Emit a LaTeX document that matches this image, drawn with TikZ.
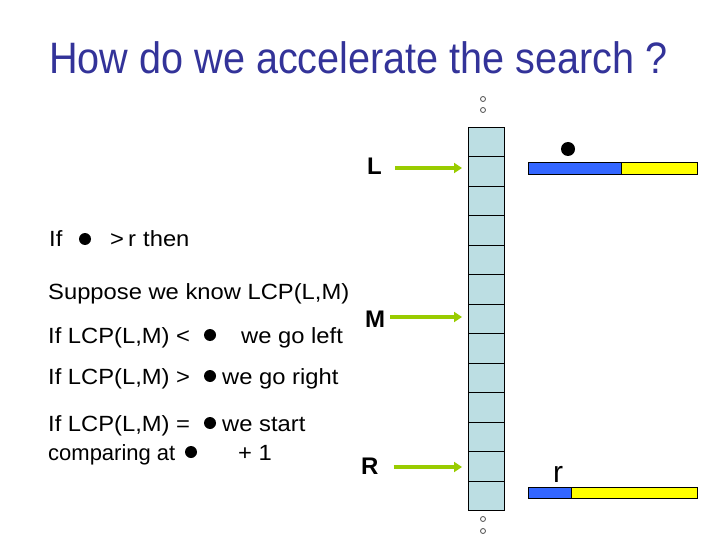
\documentclass[tikz,border=0pt]{standalone}
\usepackage{fontspec}
\setmainfont{Liberation Sans}
\newfontfamily\titlefont[FakeStretch=0.9]{Liberation Sans}
\newfontfamily\bodyfont[FakeStretch=1.08]{Liberation Sans}
\newfontfamily\narrowbodyfont[FakeStretch=1.0]{Liberation Sans}
\usetikzlibrary{arrows.meta}
\definecolor{titleblue}{RGB}{51,51,153}
\definecolor{cellblue}{RGB}{188,222,227}
\definecolor{arrowgreen}{RGB}{153,204,0}
\definecolor{barblue}{RGB}{51,102,255}
\definecolor{baryellow}{RGB}{255,255,0}
\begin{document}
\begin{tikzpicture}[x=1pt,y=-1pt,
  body/.style={anchor=base west,inner sep=0pt,font=\bodyfont\fontsize{22}{26}\selectfont},
  narrowbody/.style={anchor=base west,inner sep=0pt,font=\narrowbodyfont\fontsize{22}{26}\selectfont},
  lbl/.style={anchor=base west,inner sep=0pt,font=\bfseries\fontsize{24}{28}\selectfont},
  cellbox/.style={draw=black,fill=cellblue,line width=0.9pt,minimum width=36pt,minimum height=29.46pt,inner sep=0pt,anchor=north west},
  bul/.style={circle,fill=black,inner sep=0pt,minimum size=12pt},
  bigbul/.style={circle,fill=black,inner sep=0pt,minimum size=14pt},
  garrow/.style={draw=arrowgreen,line width=3.5pt,-{Triangle[length=8pt,width=10pt]}},
  dotc/.style={circle,draw=black!70,fill=white,line width=0.8pt,inner sep=0pt,minimum size=5pt},
  barpart/.style={draw=black,line width=0.8pt,inner sep=0pt,anchor=north west}]
\useasboundingbox (0,0) rectangle (720,540);
% title
\node[anchor=base west,inner sep=0pt,text=titleblue,font=\titlefont\fontsize{44}{50}\selectfont] (title) at (49,74) {How do we accelerate the search ?};
% column of cells
\foreach \i in {1,...,13} {
  \node[cellbox] (c\i) at (468,{127+(\i-1)*29.46}) {};
}
% dots
\node[dotc] (d1) at (483,99) {};
\node[dotc] (d2) at (483,110) {};
\node[dotc] (d3) at (483,519) {};
\node[dotc] (d4) at (483,531) {};
% L M R labels and arrows
\node[lbl] (L) at (367,175) {L};
\node[lbl] (M) at (365,327) {M};
\node[lbl] (R) at (361,474) {R};
\coordinate (Lend) at (462,168);
\coordinate (Mend) at (462,317);
\coordinate (Rend) at (462,467);
\draw[garrow,shorten <=13pt] (L.east |- Lend) -- (Lend);
\draw[garrow,shorten <=5pt] (M.east |- Mend) -- (Mend);
\draw[garrow,shorten <=15pt] (R.east |- Rend) -- (Rend);
% bars
\node[barpart,fill=barblue,minimum width=93pt,minimum height=12pt] (tb1) at (528,162) {};
\node[barpart,fill=baryellow,minimum width=76pt,minimum height=12pt] (tb2) at (621,162) {};
\node[bigbul] (lb) at (568,149) {};
\node[barpart,fill=barblue,minimum width=43pt,minimum height=11pt] (bb1) at (528,487) {};
\node[barpart,fill=baryellow,minimum width=126pt,minimum height=11pt] (bb2) at (571,487) {};
\node[anchor=base west,inner sep=0pt,font=\fontsize{30}{34}\selectfont] (rlab) at (553,482) {r};
% text lines
\node[body] (t1a) at (49,247) {If};
\node[bul] (b1) at (85,239) {};
\node[body] (t1b) at (110,247) {>};
\node[body] (t1r) at (128,247) {r};
\node[body] (t1c) at (143,247) {then};
\node[body] (t2) at (48,299) {Suppose we know LCP(L,M)};
\node[body] (t3a) at (48,343) {If LCP(L,M) <};
\node[bul] (b3) at (210,335) {};
\node[body] (t3b) at (241,343) {we go left};
\node[body] (t4a) at (48,384) {If LCP(L,M) >};
\node[bul] (b4) at (210,376) {};
\node[body] (t4b) at (222,384) {we go right};
\node[body] (t5a) at (48,431) {If LCP(L,M) =};
\node[bul] (b5) at (210,423) {};
\node[body] (t5b) at (222,431) {we start};
\node[narrowbody] (t6a) at (48,460) {comparing at};
\node[bul] (b6) at (191,452) {};
\node[body] (t6b) at (238,460) {+ 1};
\end{tikzpicture}
\end{document}
